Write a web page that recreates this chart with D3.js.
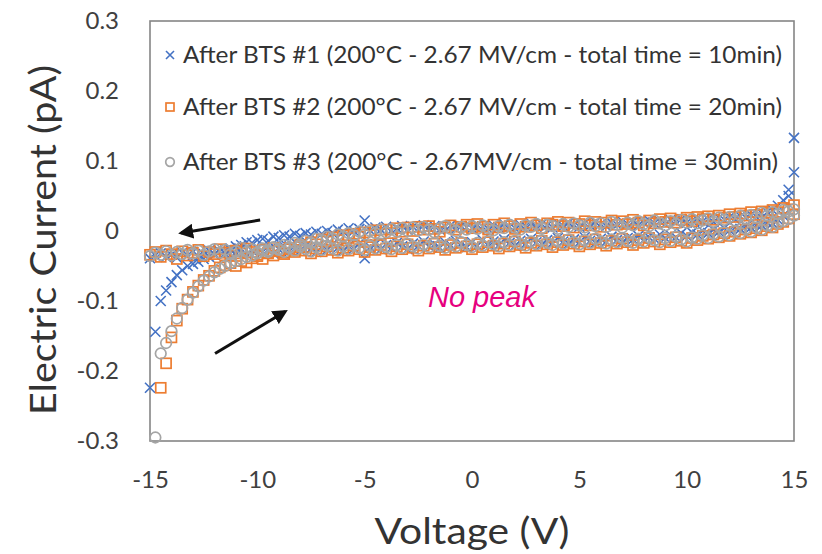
<!DOCTYPE html>
<html>
<head>
<meta charset="utf-8">
<script src="https://cdn.jsdelivr.net/npm/d3@7"></script>
<style>
  body { margin: 0; background: #fff; }
  svg { display: block; }
</style>
</head>
<body>
<svg id="chart"></svg>
<script>
// sweep voltages (V)
const voltage = [
  -15, -14.75, -14.5, -14.25, -14, -13.75, -13.5, -13.25, -13, -12.75, -12.5, -12.25,
  -12, -11.75, -11.5, -11.25, -11, -10.75, -10.5, -10.25, -10, -9.75, -9.5, -9.25,
  -9, -8.75, -8.5, -8.25, -8, -7.75, -7.5, -7.25, -7, -6.75, -6.5, -6.25,
  -6, -5.75, -5.5, -5.25, -5, -4.75, -4.5, -4.25, -4, -3.75, -3.5, -3.25,
  -3, -2.75, -2.5, -2.25, -2, -1.75, -1.5, -1.25, -1, -0.75, -0.5, -0.25,
  0, 0.25, 0.5, 0.75, 1, 1.25, 1.5, 1.75, 2, 2.25, 2.5, 2.75,
  3, 3.25, 3.5, 3.75, 4, 4.25, 4.5, 4.75, 5, 5.25, 5.5, 5.75,
  6, 6.25, 6.5, 6.75, 7, 7.25, 7.5, 7.75, 8, 8.25, 8.5, 8.75,
  9, 9.25, 9.5, 9.75, 10, 10.25, 10.5, 10.75, 11, 11.25, 11.5, 11.75,
  12, 12.25, 12.5, 12.75, 13, 13.25, 13.5, 13.75, 14, 14.25, 14.5, 14.75,
  15
];

// current (pA), up sweep -15 -> 15 and return sweep, both listed by voltage
const bts1Up = [
  -0.224, -0.144, -0.100, -0.085, -0.073, -0.063, -0.056, -0.050, -0.047, -0.044, -0.040, -0.037,
  -0.033, -0.030, -0.028, -0.025, -0.022, -0.020, -0.016, -0.017, -0.013, -0.011, -0.014, -0.008,
  -0.010, -0.006, -0.008, -0.004, -0.007, -0.003, -0.005, -0.001, -0.004, 0.000, -0.003, 0.002,
  -0.001, 0.004, 0.000, 0.003, 0.015, 0.001, 0.005, 0.002, 0.006, 0.001, 0.004, 0.007,
  0.002, 0.006, 0.003, 0.008, 0.004, 0.007, 0.002, 0.006, 0.008, 0.003, 0.007, 0.005,
  0.004, 0.009, 0.006, 0.003, 0.008, 0.005, 0.010, 0.006, 0.004, 0.009, 0.007, 0.011,
  0.006, 0.010, 0.008, 0.005, 0.011, 0.007, 0.012, 0.009, 0.006, 0.011, 0.008, 0.013,
  0.010, 0.007, 0.012, 0.009, 0.014, 0.010, 0.013, 0.008, 0.012, 0.015, 0.011, 0.014,
  0.010, 0.016, 0.013, 0.017, 0.012, 0.015, 0.018, 0.014, 0.017, 0.013, 0.019, 0.016,
  0.020, 0.017, 0.021, 0.019, 0.023, 0.020, 0.025, 0.027, 0.030, 0.036, 0.044, 0.059,
  0.133
];
const bts1Down = [
  -0.039, -0.035, -0.032, -0.037, -0.034, -0.038, -0.031, -0.035, -0.030, -0.036, -0.033, -0.028,
  -0.034, -0.029, -0.032, -0.027, -0.031, -0.026, -0.033, -0.028, -0.024, -0.030, -0.027, -0.032,
  -0.026, -0.022, -0.029, -0.025, -0.028, -0.021, -0.025, -0.030, -0.023, -0.027, -0.019, -0.024,
  -0.028, -0.021, -0.025, -0.018, -0.039, -0.023, -0.019, -0.026, -0.020, -0.024, -0.017, -0.022,
  -0.026, -0.018, -0.021, -0.015, -0.022, -0.019, -0.024, -0.016, -0.020, -0.014, -0.018, -0.023,
  -0.016, -0.021, -0.013, -0.019, -0.015, -0.020, -0.012, -0.017, -0.021, -0.014, -0.018, -0.011,
  -0.016, -0.019, -0.013, -0.017, -0.010, -0.015, -0.018, -0.012, -0.016, -0.009, -0.014, -0.017,
  -0.011, -0.015, -0.008, -0.013, -0.016, -0.010, -0.012, -0.007, -0.013, -0.009, -0.011, -0.005,
  -0.010, -0.006, -0.009, -0.003, -0.007, -0.002, -0.005, 0.000, -0.003, 0.002, -0.001, 0.004,
  0.001, 0.005, 0.003, 0.007, 0.005, 0.009, 0.008, 0.012, 0.011, 0.016, 0.022, 0.050,
  0.084
];
const bts2Up = [
  null, null, -0.224, -0.189, -0.152, -0.128, -0.111, -0.098, -0.087, -0.078, -0.070, -0.064,
  -0.057, -0.052, -0.049, -0.046, -0.050, -0.043, -0.045, -0.039, -0.036, -0.040, -0.032, -0.035,
  -0.028, -0.031, -0.024, -0.027, -0.020, -0.023, -0.016, -0.019, -0.012, -0.015, -0.009, -0.013,
  -0.006, -0.010, -0.004, -0.008, -0.002, -0.006, 0.001, -0.004, 0.002, -0.003, 0.004, -0.001,
  0.005, 0.000, 0.006, 0.002, 0.007, 0.003, -0.001, 0.005, 0.008, 0.002, 0.006, 0.009,
  0.004, 0.010, 0.006, 0.002, 0.009, 0.005, 0.011, 0.007, 0.003, 0.010, 0.006, 0.012,
  0.008, 0.004, 0.011, 0.009, 0.013, 0.007, 0.012, 0.005, 0.010, 0.014, 0.008, 0.013,
  0.006, 0.012, 0.015, 0.009, 0.014, 0.010, 0.016, 0.012, 0.008, 0.015, 0.011, 0.017,
  0.013, 0.018, 0.012, 0.016, 0.019, 0.014, 0.020, 0.017, 0.021, 0.016, 0.022, 0.019,
  0.024, 0.020, 0.025, 0.022, 0.027, 0.023, 0.028, 0.026, 0.030, 0.027, 0.033, 0.031,
  0.037
];
const bts2Down = [
  -0.034, -0.030, -0.037, -0.028, -0.033, -0.040, -0.029, -0.035, -0.031, -0.027, -0.036, -0.030,
  -0.033, -0.026, -0.031, -0.035, -0.028, -0.032, -0.025, -0.030, -0.034, -0.027, -0.031, -0.024,
  -0.029, -0.033, -0.026, -0.030, -0.023, -0.028, -0.032, -0.025, -0.029, -0.022, -0.027, -0.031,
  -0.024, -0.028, -0.021, -0.026, -0.030, -0.023, -0.027, -0.020, -0.025, -0.029, -0.022, -0.026,
  -0.019, -0.024, -0.028, -0.021, -0.025, -0.018, -0.023, -0.027, -0.020, -0.024, -0.017, -0.022,
  -0.026, -0.019, -0.023, -0.016, -0.021, -0.025, -0.018, -0.022, -0.015, -0.020, -0.024, -0.017,
  -0.021, -0.014, -0.019, -0.023, -0.016, -0.020, -0.013, -0.018, -0.022, -0.015, -0.019, -0.012,
  -0.017, -0.021, -0.014, -0.018, -0.011, -0.016, -0.020, -0.013, -0.017, -0.010, -0.015, -0.019,
  -0.012, -0.016, -0.009, -0.014, -0.017, -0.010, -0.013, -0.007, -0.011, -0.005, -0.009, -0.003,
  -0.007, -0.001, -0.004, 0.002, -0.002, 0.004, 0.001, 0.007, 0.005, 0.010, 0.013, 0.018,
  0.024
];
const bts3Up = [
  null, -0.295, -0.175, -0.160, -0.143, -0.125, -0.110, -0.098, -0.088, -0.079, -0.071, -0.065,
  -0.059, -0.054, -0.050, -0.046, -0.043, -0.040, -0.037, -0.035, -0.032, -0.028, -0.030, -0.024,
  -0.026, -0.020, -0.023, -0.017, -0.019, -0.014, -0.017, -0.011, -0.013, -0.008, -0.011, -0.005,
  -0.008, -0.003, -0.006, -0.001, -0.005, 0.000, -0.003, 0.002, -0.002, 0.003, -0.001, 0.004,
  0.000, 0.005, 0.001, 0.006, 0.002, -0.002, 0.004, 0.007, 0.003, 0.000, 0.006, 0.002,
  0.007, 0.003, 0.008, 0.004, 0.001, 0.007, 0.004, 0.009, 0.005, 0.002, 0.008, 0.006,
  0.010, 0.004, 0.009, 0.007, 0.003, 0.010, 0.006, 0.011, 0.008, 0.005, 0.012, 0.007,
  0.011, 0.006, 0.013, 0.009, 0.005, 0.012, 0.008, 0.014, 0.010, 0.007, 0.015, 0.011,
  0.008, 0.014, 0.010, 0.016, 0.012, 0.017, 0.011, 0.015, 0.018, 0.013, 0.019, 0.016,
  0.020, 0.015, 0.022, 0.018, 0.023, 0.019, 0.026, 0.022, 0.027, 0.024, 0.030, 0.028,
  0.031
];
const bts3Down = [
  -0.036, -0.031, -0.034, -0.029, -0.035, -0.030, -0.033, -0.027, -0.032, -0.028, -0.034, -0.029,
  -0.026, -0.031, -0.027, -0.033, -0.029, -0.024, -0.030, -0.026, -0.031, -0.025, -0.028, -0.023,
  -0.027, -0.030, -0.024, -0.028, -0.022, -0.026, -0.029, -0.023, -0.027, -0.021, -0.025, -0.028,
  -0.022, -0.026, -0.020, -0.024, -0.027, -0.021, -0.025, -0.018, -0.023, -0.026, -0.020, -0.024,
  -0.018, -0.022, -0.025, -0.019, -0.023, -0.017, -0.021, -0.024, -0.018, -0.022, -0.016, -0.020,
  -0.023, -0.017, -0.021, -0.015, -0.019, -0.022, -0.016, -0.020, -0.014, -0.018, -0.021, -0.015,
  -0.019, -0.013, -0.017, -0.020, -0.014, -0.018, -0.012, -0.016, -0.019, -0.013, -0.017, -0.011,
  -0.015, -0.018, -0.012, -0.016, -0.010, -0.014, -0.017, -0.011, -0.015, -0.009, -0.013, -0.016,
  -0.010, -0.014, -0.008, -0.012, -0.015, -0.009, -0.011, -0.006, -0.010, -0.004, -0.008, -0.002,
  -0.006, 0.000, -0.003, 0.003, -0.001, 0.005, 0.002, 0.008, 0.006, 0.011, 0.014, 0.017,
  0.022
];

const seriesNames = [
  "After BTS #1 (200°C - 2.67 MV/cm - total time = 10min)",
  "After BTS #2 (200°C - 2.67 MV/cm - total time = 20min)",
  "After BTS #3 (200°C - 2.67MV/cm - total time = 30min)"
];
const xTicks = [-15, -10, -5, 0, 5, 10, 15];
const yTicks = [-0.3, -0.2, -0.1, 0, 0.1, 0.2, 0.3];

const W = 822, H = 554;
const margin = { top: 21, right: 28, bottom: 113, left: 150 };

const svg = d3.select("#chart").attr("width", W).attr("height", H);

const x = d3.scaleLinear().domain([-15, 15]).range([margin.left, W - margin.right]);
const y = d3.scaleLinear().domain([-0.3, 0.3]).range([H - margin.bottom, margin.top]);

const font = "Lato, 'Open Sans', sans-serif";

// axes (labels only, the frame is drawn as a rect)
const xAxis = svg.append("g")
  .attr("transform", "translate(0," + y(-0.3) + ")")
  .call(d3.axisBottom(x).tickValues(xTicks).tickSize(0).tickPadding(32)
    .tickFormat(d => String(d)));
const yAxis = svg.append("g")
  .attr("transform", "translate(" + x(-15) + ",0)")
  .call(d3.axisLeft(y).tickValues(yTicks).tickSize(0).tickPadding(31)
    .tickFormat(d => d === 0 ? "0" : d.toFixed(1)));
[xAxis, yAxis].forEach(a => {
  a.select(".domain").remove();
  a.selectAll("text").attr("font-family", font).attr("font-size", 24).attr("fill", "#404040");
});
xAxis.selectAll("text").attr("dy", "0.62em");

svg.append("rect")
  .attr("x", x(-15)).attr("y", y(0.3))
  .attr("width", x(15) - x(-15)).attr("height", y(-0.3) - y(0.3))
  .attr("fill", "none").attr("stroke", "#858585").attr("stroke-width", 1.6);

// markers
const colors = ["#4472C4", "#ED7D31", "#A5A5A5"];
function marker(g, k, s) {
  if (k === 0) {
    g.append("path").attr("d", "M" + -s + "," + -s + "L" + s + "," + s + "M" + -s + "," + s + "L" + s + "," + -s)
      .attr("stroke", colors[0]).attr("stroke-width", 1.6).attr("fill", "none");
  } else if (k === 1) {
    g.append("rect").attr("x", -s).attr("y", -s).attr("width", 2 * s).attr("height", 2 * s)
      .attr("stroke", colors[1]).attr("stroke-width", 1.7).attr("fill", "none");
  } else {
    g.append("circle").attr("r", s + 0.3)
      .attr("stroke", colors[2]).attr("stroke-width", 1.7).attr("fill", "none");
  }
}

const sweeps = [[bts1Up, bts1Down], [bts2Up, bts2Down], [bts3Up, bts3Down]];
sweeps.forEach((pair, k) => {
  const pts = [];
  pair.forEach(arr => arr.forEach((c, i) => {
    if (c !== null) pts.push({ v: voltage[i], c: c });
  }));
  svg.append("g").selectAll("g")
    .data(pts)
    .enter().append("g")
    .attr("transform", d => "translate(" + x(d.v) + "," + y(d.c) + ")")
    .each(function () { marker(d3.select(this), k, 5); });
});

// legend
const legendY = [55, 107, 162];
const legendLen = [599, 599, 595];
seriesNames.forEach((name, k) => {
  const g = svg.append("g").attr("transform", "translate(170," + legendY[k] + ")");
  marker(g, k, 4);
  g.append("text").attr("x", 13).attr("dy", "0.36em")
    .attr("font-family", font).attr("font-size", 23).attr("fill", "#333")
    .attr("textLength", legendLen[k]).attr("lengthAdjust", "spacingAndGlyphs")
    .text(name);
});

// axis titles
svg.append("text")
  .attr("x", x(0)).attr("y", 544)
  .attr("text-anchor", "middle")
  .attr("font-family", font).attr("font-size", 36).attr("fill", "#333")
  .attr("textLength", 195).attr("lengthAdjust", "spacingAndGlyphs")
  .text("Voltage (V)");
svg.append("text")
  .attr("transform", "translate(56,240) rotate(-90)")
  .attr("text-anchor", "middle")
  .attr("font-family", font).attr("font-size", 36).attr("fill", "#333")
  .attr("textLength", 350).attr("lengthAdjust", "spacingAndGlyphs")
  .text("Electric Current (pA)");

// sweep direction arrows
svg.append("defs").append("marker")
  .attr("id", "head").attr("viewBox", "0 0 10 10")
  .attr("refX", 8).attr("refY", 5)
  .attr("markerWidth", 5).attr("markerHeight", 5)
  .attr("orient", "auto")
  .append("path").attr("d", "M0,0L10,5L0,10Z").attr("fill", "#111");

const arrows = [
  { from: [-9.87, 0.0157], to: [-13.55, -0.003] },
  { from: [-11.97, -0.175], to: [-8.7, -0.115] }
];
svg.selectAll("line.arrow")
  .data(arrows)
  .enter().append("line")
  .attr("class", "arrow")
  .attr("x1", d => x(d.from[0])).attr("y1", d => y(d.from[1]))
  .attr("x2", d => x(d.to[0])).attr("y2", d => y(d.to[1]))
  .attr("stroke", "#111").attr("stroke-width", 3)
  .attr("marker-end", "url(#head)");

// annotation
svg.append("text")
  .attr("x", x(-2.05)).attr("y", y(-0.109))
  .attr("font-family", "'Liberation Sans', Arial, sans-serif")
  .attr("font-style", "italic").attr("font-size", 29)
  .attr("fill", "#E6007E")
  .text("No peak");
</script>
</body>
</html>
